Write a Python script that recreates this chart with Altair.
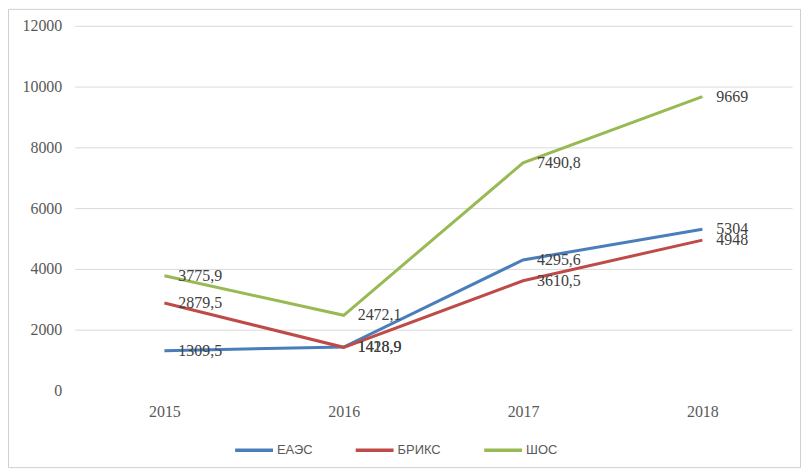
import altair as alt
import pandas as pd

years = ["2015", "2016", "2017", "2018"]
series = ["ЕАЭС", "БРИКС", "ШОС"]
eaes = [1309.5, 1428.9, 4295.6, 5304]
briks = [2879.5, 1418.9, 3610.5, 4948]
shos = [3775.9, 2472.1, 7490.8, 9669]
colors = ["#4A7EBB", "#BE4B48", "#98B954"]

rows = []
for name, vals in zip(series, [eaes, briks, shos]):
    for y, v in zip(years, vals):
        rows.append({"year": y, "series": name, "value": v,
                     "label": f"{v:g}".replace(".", ",")})
df = pd.DataFrame(rows)

W, H = 720, 366

x = alt.X("year:O", scale=alt.Scale(type="point", padding=0.5),
          axis=alt.Axis(title=None, labelAngle=0, ticks=False, domain=False,
                        labelFont="Liberation Serif", labelFontSize=16,
                        labelColor="#595959", labelPadding=13))
y = alt.Y("value:Q", scale=alt.Scale(domain=[0, 12000], nice=False),
          axis=alt.Axis(title=None, values=[0, 2000, 4000, 6000, 8000, 10000, 12000],
                        format="d", ticks=False, domain=False,
                        labelFont="Liberation Serif", labelFontSize=16,
                        labelColor="#595959", labelPadding=13,
                        gridColor={"condition": {"test": "datum.value === 0", "value": "transparent"},
                                   "value": "#D9D9D9"}))

color = alt.Color("series:N", scale=alt.Scale(domain=series, range=colors),
                  legend=alt.Legend(title=None, orient="none", direction="horizontal",
                                    legendX=159, legendY=405,
                                    symbolType="stroke", symbolSize=1444,
                                    symbolStrokeWidth=3.5, columnPadding=36,
                                    labelFont="Liberation Sans", labelFontSize=13,
                                    labelColor="#595959", labelOffset=2))

lines = alt.Chart(df).mark_line(strokeWidth=3).encode(x=x, y=y, color=color)

texts = alt.Chart(df).mark_text(align="left", baseline="middle", dx=14,
                                font="Liberation Serif", fontSize=16,
                                color="#404040").encode(
    x=alt.X("year:O"), y=alt.Y("value:Q"), text="label:N")

border = alt.Chart(pd.DataFrame({"a": [0]})).mark_rect(
    fill=None, stroke="#D0D0D0", strokeWidth=1).encode(
    x=alt.value(-66.5), x2=alt.value(W + 8.5),
    y=alt.value(-16.5), y2=alt.value(H + 77.5))

chart = alt.layer(border, lines, texts).properties(
    width=W, height=H,
    autosize=alt.AutoSizeParams(type="none"),
    padding={"left": 67, "top": 17, "right": 10, "bottom": 80},
).configure_view(stroke=None)

chart.save("out.html", embed_options={"renderer": "svg", "actions": False})
